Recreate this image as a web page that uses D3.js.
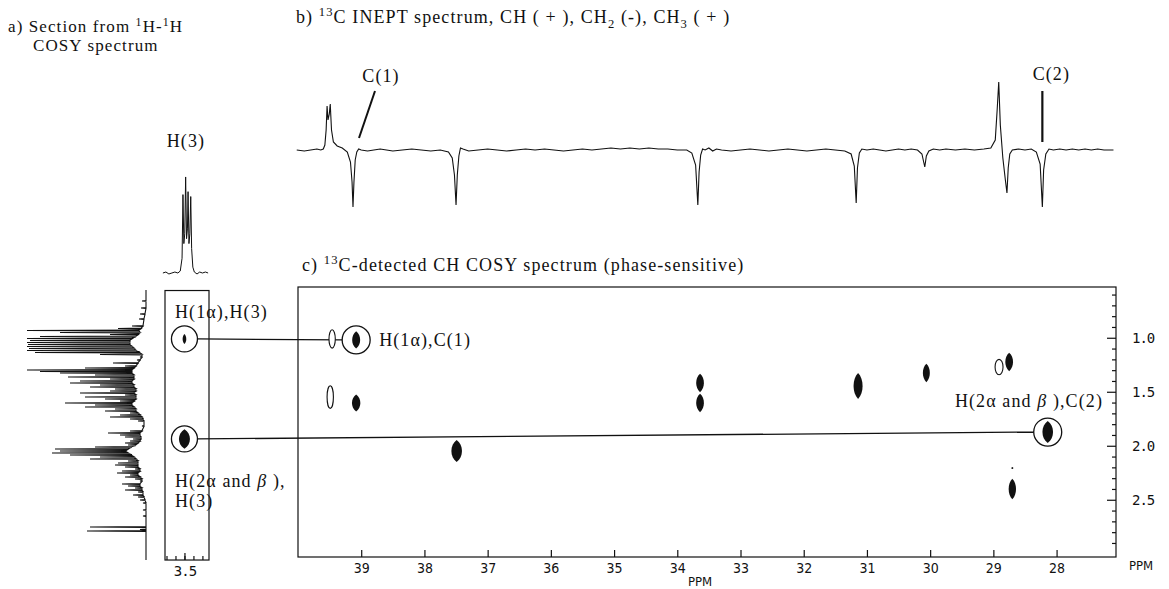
<!DOCTYPE html>
<html><head><meta charset="utf-8">
<script src="https://cdn.jsdelivr.net/npm/d3@7"></script>
<style>
body{margin:0;background:#fff}
svg{display:block}
.serif{font-family:"Liberation Serif","Times New Roman",serif;fill:#111;letter-spacing:1.1px}
.plot{font-family:"DejaVu Sans Mono","Liberation Mono",monospace;fill:#111}
.xlab{font-family:"DejaVu Sans","Liberation Sans",sans-serif;font-stretch:condensed;fill:#111}
</style>
</head><body>
<svg id="c" width="1169" height="589"></svg>
<script>
// ---------------- DATA ----------------
// 13C axis ticks (ppm) and 1H axis ticks (ppm)
const cTicks = [39,38,37,36,35,34,33,32,31,30,29,28];
const hTicksMajor = [1.0,1.5,2.0,2.5];
const hTicksMinor = [0.6,0.7,0.8,0.9,1.1,1.2,1.3,1.4,1.6,1.7,1.8,1.9,2.1,2.2,2.3,2.4,2.6,2.7,2.8,2.9];
const stripTicks = [3.56,3.53,3.5,3.47,3.44];
const stripLabelTicks = [3.5];

// 13C-detected CH COSY cross peaks: 13C ppm, 1H ppm, 13C width, 1H width, phase
const crossC = [39.46,39.08,39.49,39.08,33.64,33.64,37.49,31.14,30.06,28.91,28.75,28.70,28.70,28.14];
const crossH = [1.011,1.020,1.549,1.604,1.419,1.604,2.049,1.447,1.326,1.271,1.224,2.400,2.206,1.873];
const crossWC = [0.050,0.062,0.050,0.065,0.060,0.060,0.082,0.070,0.054,0.063,0.060,0.057,0.016,0.082];
const crossWH = [0.085,0.080,0.105,0.078,0.085,0.085,0.102,0.120,0.085,0.071,0.085,0.095,0.010,0.102];
const crossPhase = [-1,1,-1,1,1,1,1,1,1,-1,1,1,1,1];
const circledCross = [1,13];        // H(1a),C(1) and H(2a and b),C(2)

// 1H-1H COSY strip cross peaks
const stripH3 = [3.50,3.50];
const stripH = [1.011,1.937];
const stripWX = [0.006,0.018];
const stripWY = [0.046,0.090];

// 13C INEPT trace: [ppm, intensity]
const inept = [
 [40.02,0],[39.9,-1],[39.8,0],[39.7,1],[39.64,0],[39.6,1],[39.575,5],[39.555,20],[39.54,44],[39.525,30],
 [39.505,36],[39.49,46],[39.47,20],[39.44,8],[39.38,4],[39.3,2],[39.22,-2],[39.17,-12],[39.145,-32],[39.13,-57],
 [39.115,-32],[39.095,-10],[39.07,-2],[39.04,1],[39.0,0],[38.9,-1],[38.8,0],[38.7,1],[38.6,0],[38.5,-1],
 [38.35,0],[38.2,1],[38.05,0],[37.9,-1],[37.75,0],[37.62,-2],[37.56,-8],[37.525,-25],[37.5,-55],[37.48,-25],
 [37.455,-6],[37.43,2],[37.39,1],[37.3,-1],[37.15,0],[37.0,1],[36.85,0],[36.7,-1],[36.55,0],[36.4,1],
 [36.25,0],[36.1,1],[35.95,0],[35.8,-1],[35.65,0],[35.5,1],[35.35,0],[35.2,1],[35.05,2],[34.9,1],
 [34.75,2],[34.6,1],[34.45,2],[34.3,1],[34.15,1],[34.0,0],[33.85,0],[33.77,-3],[33.71,-15],[33.675,-55],
 [33.655,-22],[33.63,-5],[33.6,1],[33.56,0],[33.5,2],[33.44,-1],[33.38,1],[33.3,0],[33.15,-1],[33.0,0],
 [32.85,1],[32.7,0],[32.55,-1],[32.4,0],[32.25,1],[32.1,0],[31.95,-1],[31.8,0],[31.65,1],[31.5,0],
 [31.35,-1],[31.25,-4],[31.2,-16],[31.17,-53],[31.15,-18],[31.12,-3],[31.08,1],[31.0,0],[30.9,1],[30.8,0],
 [30.7,-1],[30.6,0],[30.5,1],[30.4,0],[30.3,1],[30.2,0],[30.13,-4],[30.085,-17],[30.06,-6],[30.02,-1],
 [29.95,1],[29.85,0],[29.75,1],[29.6,0],[29.45,1],[29.3,0],[29.15,1],[29.04,2],[28.97,10],[28.94,40],
 [28.915,68],[28.89,25],[28.85,-8],[28.81,-30],[28.785,-43],[28.765,-18],[28.74,-4],[28.7,0],[28.6,1],[28.5,0],
 [28.4,1],[28.32,-2],[28.26,-14],[28.225,-57],[28.205,-20],[28.17,-4],[28.12,1],[28.05,0],[27.95,1],[27.85,0],
 [27.75,1],[27.65,0],[27.55,1],[27.45,0],[27.35,1],[27.25,0],[27.1,0]
];
const c1Label = 39.13, c2Label = 28.225;

// 1H trace of H(3): [ppm, intensity]
const h3Trace = [
 [3.572,0],[3.562,1],[3.552,-1],[3.542,0],[3.532,1],[3.522,0],[3.514,2],[3.508,15],[3.505,80],[3.502,30],
 [3.499,40],[3.496,98],[3.493,35],[3.490,45],[3.488,83],[3.485,30],[3.482,40],[3.479,78],[3.476,25],[3.472,6],
 [3.467,1],[3.458,-1],[3.449,1],[3.440,0],[3.430,1],[3.421,0]
];

// 1H spectrum: [ppm, peak intensity, local baseline]
const h1Peaks = [
 [0.660,4,0],[0.724,5,0],[0.780,6,1],[0.826,7,2],[0.891,14,3],[0.914,28,5],[0.933,119,7],[0.951,86,6],
 [0.970,36,8],[0.988,106,10],[1.007,119,14],[1.025,116,16],[1.044,119,16],[1.062,118,16],[1.081,119,14],
 [1.099,117,12],[1.118,119,10],[1.136,111,6],[1.155,46,4],[1.178,6,4],[1.206,9,6],[1.234,33,8],[1.261,21,10],
 [1.280,61,12],[1.299,119,14],[1.312,106,14],[1.326,86,14],[1.345,51,12],[1.363,78,12],[1.382,36,12],
 [1.400,66,14],[1.419,76,14],[1.437,46,12],[1.456,56,12],[1.474,31,10],[1.493,36,10],[1.511,66,12],
 [1.530,21,10],[1.549,61,10],[1.567,41,10],[1.586,26,12],[1.604,81,14],[1.623,51,14],[1.641,61,12],
 [1.660,31,10],[1.678,41,10],[1.697,16,8],[1.715,26,6],[1.734,36,4],[1.752,16,3],[1.771,8,2],[1.817,4,2],
 [1.863,16,4],[1.882,38,6],[1.900,26,6],[1.919,21,5],[1.937,13,5],[1.956,16,6],[1.974,21,8],[1.993,18,10],
 [2.011,51,14],[2.030,91,18],[2.049,86,20],[2.067,94,18],[2.086,76,14],[2.104,46,12],[2.123,56,10],
 [2.141,18,8],[2.160,28,8],[2.178,31,8],[2.197,21,8],[2.215,11,6],[2.234,24,6],[2.252,29,8],[2.271,16,8],
 [2.289,21,6],[2.308,11,4],[2.326,6,4],[2.354,24,6],[2.373,18,6],[2.391,11,4],[2.410,21,4],[2.428,8,3],
 [2.456,13,3],[2.474,8,2],[2.502,6,1],[2.530,3,0],[2.595,3,0],[2.650,3,0],[2.752,56,0],[2.775,6,0],[2.789,59,0]
];
const h1Range = [0.558,3.058];

// ---------------- SCALES ----------------
const svg = d3.select("#c");
svg.append("rect").attr("width",1169).attr("height",589).attr("fill","#fff");

const xC = d3.scaleLinear().domain([40.0,27.06]).range([298,1116]);
const yH = d3.scaleLinear().domain([0.53,3.03]).range([287,557]);
const xS = d3.scaleLinear().domain([3.565,3.418]).range([165,209]);
const yI = d3.scaleLinear().domain([0,70]).range([150,80]);
const xP = d3.scaleLinear().domain([0,119]).range([146,27]);
const yP = d3.scaleLinear().domain([0,100]).range([273,175]);

const ink = "#111";

function rich(g, x, y, parts, size){
  const t = g.append("text").attr("class","serif").attr("x",x).attr("y",y).attr("font-size",size);
  parts.forEach(p=>{
    const s = t.append("tspan").text(p.t);
    if(p.sup){ s.attr("font-size",size*0.7).attr("dy",-size*0.38); }
    else if(p.sub){ s.attr("font-size",size*0.7).attr("dy",size*0.3); }
    if(p.back){ s.attr("dy",p.back); }
    if(p.it){ s.attr("font-style","italic"); }
  });
  return t;
}
const fs = 18, fa = 17;
// ---------------- TITLES ----------------
rich(svg, 8, 32, [{t:"a) Section from "},{t:"1",sup:true},{t:"H-",back:fa*0.38},{t:"1",sup:true},{t:"H",back:fa*0.38}], fa)
  .attr("letter-spacing","1.9px");
rich(svg, 33, 51, [{t:"COSY spectrum"}], fa).attr("letter-spacing","1.9px");
rich(svg, 296, 23, [{t:"b) "},{t:"13",sup:true},{t:"C INEPT spectrum, CH ( + ), CH",back:fs*0.38},{t:"2",sub:true},
  {t:" (-), CH",back:-fs*0.3},{t:"3",sub:true},{t:" ( + )",back:-fs*0.3}], fs);
rich(svg, 302, 271, [{t:"c) "},{t:"13",sup:true},{t:"C-detected CH COSY spectrum (phase-sensitive)",back:fs*0.38}], fs);

// ---------------- INEPT SPECTRUM ----------------
svg.append("path").datum(inept)
  .attr("d", d3.line().x(d=>xC(d[0])).y(d=>yI(d[1])))
  .attr("fill","none").attr("stroke",ink).attr("stroke-width",1.1);
svg.append("text").attr("class","serif").attr("x",xC(c1Label)+28).attr("y",82).attr("font-size",fs)
  .attr("text-anchor","middle").text("C(1)");
svg.append("line").attr("x1",xC(c1Label)+22).attr("y1",91).attr("x2",xC(c1Label)+6).attr("y2",138)
  .attr("stroke",ink).attr("stroke-width",2);
svg.append("text").attr("class","serif").attr("x",xC(c2Label)+9).attr("y",80).attr("font-size",fs)
  .attr("text-anchor","middle").text("C(2)");
svg.append("line").attr("x1",xC(c2Label)).attr("y1",91).attr("x2",xC(c2Label)).attr("y2",142)
  .attr("stroke",ink).attr("stroke-width",2.2);

// ---------------- H(3) TRACE ----------------
svg.append("text").attr("class","serif").attr("x",xS(3.495)).attr("y",147).attr("font-size",fs)
  .attr("text-anchor","middle").text("H(3)");
svg.append("path").datum(h3Trace)
  .attr("d", d3.line().x(d=>xS(d[0])).y(d=>yP(d[1])))
  .attr("fill","none").attr("stroke",ink).attr("stroke-width",1);

// ---------------- 1H SPECTRUM (left) ----------------
const d = 0.0035;
const h1Pts = [[h1Range[0],0]];
h1Peaks.forEach(p=>{ h1Pts.push([p[0]-d,p[2]],[p[0],p[1]],[p[0]+d,p[2]]); });
h1Pts.push([h1Range[1],0]);
svg.append("path").datum(h1Pts)
  .attr("d", d3.line().x(p=>xP(p[1])).y(p=>yH(p[0])))
  .attr("fill","none").attr("stroke",ink).attr("stroke-width",1.1);

// ---------------- STRIP ----------------
const sTop = yH(h1Range[0])+0.5, sBot = yH(h1Range[1]);
svg.append("rect").attr("x",xS.range()[0]).attr("y",sTop).attr("width",xS.range()[1]-xS.range()[0])
  .attr("height",sBot-sTop).attr("fill","none").attr("stroke",ink).attr("stroke-width",1.2);
const sAxMaj = d3.axisBottom(xS).tickValues(stripLabelTicks).tickSize(-7).tickPadding(6).tickSizeOuter(0)
  .tickFormat(d3.format(".1f"));
const sAxMin = d3.axisBottom(xS).tickValues(stripTicks).tickSize(-4).tickSizeOuter(0).tickFormat("");
[sAxMin,sAxMaj].forEach(ax=>{
  const g = svg.append("g").attr("transform",`translate(0,${sBot})`).call(ax);
  g.select(".domain").remove();
  g.selectAll("line").attr("stroke",ink).attr("stroke-width",1.2);
  g.selectAll("text").attr("class","plot").attr("font-size",14).attr("font-family",null).attr("letter-spacing",-1);
});

function spot(cx,cy,rx,ry){
  rx=Math.abs(rx); ry=Math.abs(ry); const k=1.36*rx;
  return `M${cx},${cy-ry}C${cx+k},${cy-ry*0.55} ${cx+k},${cy+ry*0.55} ${cx},${cy+ry}C${cx-k},${cy+ry*0.55} ${cx-k},${cy-ry*0.55} ${cx},${cy-ry}Z`;
}

stripH.forEach((h,i)=>{
  const cx = xS(stripH3[i]), cy = yH(h);
  svg.append("path").attr("d",spot(cx,cy,xS(stripH3[i]-stripWX[i])-cx,yH(h+stripWY[i])-cy)).attr("fill",ink);
  svg.append("circle").attr("cx",cx).attr("cy",cy).attr("r",13).attr("fill","none").attr("stroke",ink).attr("stroke-width",1.3);
});
rich(svg, 175, 318, [{t:"H(1α),H(3)"}], fs);
rich(svg, 175, 487, [{t:"H(2α and "},{t:"β",it:true},{t:" ),"}], fs);
rich(svg, 175, 507, [{t:"H(3)"}], fs);

// ---------------- MAIN 2D PLOT ----------------
svg.append("rect").attr("x",xC.range()[0]).attr("y",yH.range()[0]).attr("width",xC.range()[1]-xC.range()[0])
  .attr("height",yH.range()[1]-yH.range()[0]).attr("fill","none").attr("stroke",ink).attr("stroke-width",1.2);

const xAx = d3.axisBottom(xC).tickValues(cTicks).tickSize(-7).tickPadding(6).tickSizeOuter(0).tickFormat(d3.format("d"));
const gx = svg.append("g").attr("transform",`translate(0,${yH.range()[1]})`).call(xAx);
gx.select(".domain").remove();
gx.selectAll("line").attr("stroke",ink).attr("stroke-width",1.2);
gx.selectAll("text").attr("class","xlab").attr("font-size",14).attr("font-family",null);

const yAxMin = d3.axisRight(yH).tickValues(hTicksMinor).tickSize(-4).tickSizeOuter(0).tickFormat("");
const yAxMaj = d3.axisRight(yH).tickValues(hTicksMajor).tickSize(-9).tickPadding(16).tickSizeOuter(0).tickFormat(d3.format(".1f"));
[yAxMin,yAxMaj].forEach(ax=>{
  const g = svg.append("g").attr("transform",`translate(${xC.range()[1]},0)`).call(ax);
  g.select(".domain").remove();
  g.selectAll("line").attr("stroke",ink).attr("stroke-width",1.2);
  g.selectAll("text").attr("class","plot").attr("font-size",14).attr("font-family",null).attr("letter-spacing",-1);
});
svg.append("text").attr("class","xlab").attr("x",1141).attr("y",570).attr("font-size",13).attr("text-anchor","middle").text("PPM");
svg.append("text").attr("class","xlab").attr("x",(xC.range()[0]+xC.range()[1])/2-7).attr("y",586).attr("font-size",13).attr("text-anchor","middle").text("PPM");

// connector lines strip -> main
circledCross.forEach((ci,i)=>{
  const x1 = xS(stripH3[i])+13, y1 = yH(stripH[i]);
  const x2 = xC(crossC[ci])-14, y2 = yH(crossH[ci]);
  svg.append("line").attr("x1",x1).attr("y1",y1).attr("x2",x2).attr("y2",y2).attr("stroke",ink).attr("stroke-width",1.3);
});

crossC.forEach((c,i)=>{
  const cx = xC(c), cy = yH(crossH[i]);
  const rx = xC(c-crossWC[i])-cx, ry = yH(crossH[i]+crossWH[i])-cy;
  if(crossPhase[i]>0){
    svg.append("path").attr("d",spot(cx,cy,rx,ry)).attr("fill",ink);
  } else {
    svg.append("ellipse").attr("cx",cx).attr("cy",cy).attr("rx",Math.abs(rx)).attr("ry",Math.abs(ry))
      .attr("fill","#fff").attr("stroke",ink).attr("stroke-width",1.1);
  }
});
circledCross.forEach(ci=>{
  svg.append("circle").attr("cx",xC(crossC[ci])).attr("cy",yH(crossH[ci])).attr("r",14)
    .attr("fill","none").attr("stroke",ink).attr("stroke-width",1.3);
});
rich(svg, xC(crossC[1])+23, yH(crossH[1])+6, [{t:"H(1α),C(1)"}], fs);
const t2 = rich(svg, xC.range()[1]-13, yH(crossH[13])-25, [{t:"H(2α and "},{t:"β",it:true},{t:" ),C(2)"}], fs);
t2.attr("text-anchor","end");
</script>
</body></html>
